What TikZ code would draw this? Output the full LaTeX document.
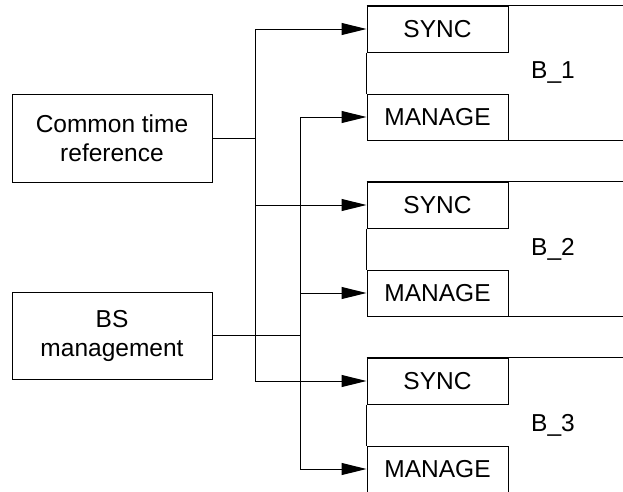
\documentclass[tikz,border=0pt]{standalone}
\usepackage{fontspec}
\setmainfont{Liberation Sans}
\usetikzlibrary{arrows.meta}
\tikzset{
  srcbox/.style={draw, line width=1pt, minimum width=200pt, minimum height=88pt,
    align=center, inner sep=0pt, font=\fontsize{24.5}{29}\selectfont},
  portbox/.style={draw, line width=1pt, minimum width=141pt, minimum height=46pt,
    inner sep=0pt, font=\fontsize{24.5}{29}\selectfont},
  feed/.style={line width=1pt, -{Triangle[length=25pt,width=12pt]}},
  wire/.style={line width=1pt}
}
\begin{document}
\begin{tikzpicture}[x=1pt, y=-1pt]
    \useasboundingbox (0,0) rectangle (623,491);
    \clip (0,0) rectangle (623,491);
    % sources
    \node[srcbox] (ctr) at (112,138) {Common time\\reference};
    \node[srcbox, minimum height=87pt] (bsm) at (112,335.5) {BS\\management};
    % base stations
    \foreach \i/\y in {1/6, 2/182, 3/358} {
        \node[portbox] (sync\i) at (437.5,\y+23) {SYNC};
        \node[portbox] (manage\i) at (437.5,\y+111) {MANAGE};
        \draw[wire] (sync\i.north west) -- ++(300,0);
        \draw[wire] (sync\i.south west) -- (manage\i.north west);
        \draw[wire] (manage\i.south east) -- ++(200,0);
        \node[font=\fontsize{24.5}{29}\selectfont] (lab\i) at (553,\y+67) {B\_\i};
    }
    % trunks
    \coordinate (t1) at (255,138);
    \coordinate (t2) at (300,335.5);
    \draw[wire] (ctr.east) -- (t1);
    \draw[wire] (bsm.east) -- (t2);
    \draw[wire] (sync1.west -| t1) -- (sync3.west -| t1);
    \draw[wire] (manage1.west -| t2) -- (manage3.west -| t2);
    \foreach \i in {1,2,3} {
        \draw[feed] (sync\i.west -| t1) -- (sync\i.west);
        \draw[feed] (manage\i.west -| t2) -- (manage\i.west);
    }
\end{tikzpicture}
\end{document}
